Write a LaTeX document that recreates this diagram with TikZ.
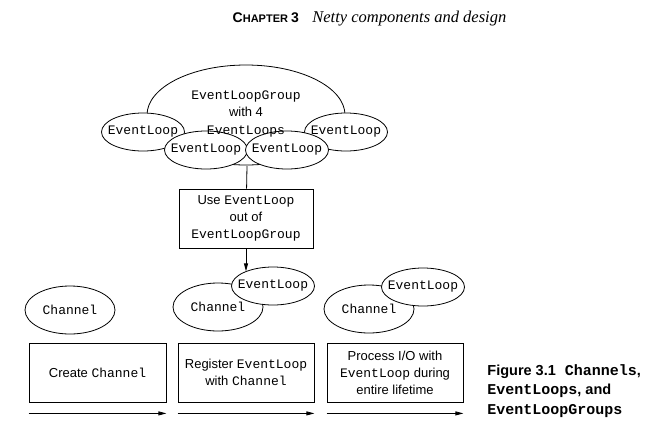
\documentclass[tikz,border=0pt]{standalone}
\usepackage{fontspec}
\setmainfont{Liberation Serif}
\setsansfont{Liberation Sans}
\setmonofont{Liberation Mono}
\usetikzlibrary{arrows.meta,shapes.geometric}
\newcommand{\cname}[1]{{\ttfamily #1}}
\newcommand{\capname}[1]{{\ttfamily\fontsize{15}{17.5}\selectfont #1}}
\newcommand{\tight}[1]{\makebox[0pt]{#1}}

\begin{document}
\begin{tikzpicture}[x=1pt,y=-1pt,line width=0.8pt,
    loop/.style={shape=ellipse,draw=black,fill=white,inner sep=0pt,
        minimum width=83pt,minimum height=38pt,font=\ttfamily\fontsize{13}{17}\selectfont},
    chan/.style={shape=ellipse,draw=black,fill=white,inner sep=0pt,
        minimum width=90pt,minimum height=48pt,font=\ttfamily\fontsize{13}{17}\selectfont},
    stepbox/.style={draw=black,inner sep=0pt,minimum width=136pt,minimum height=59pt,
        align=center,font=\sffamily\fontsize{13}{17}\selectfont},
    flow/.style={-{Triangle[length=8pt,width=4pt]}}]
    \useasboundingbox (0,0) rectangle (669,426);

    \node[anchor=base west,font=\sffamily\bfseries] (chap) at (229,22)
        {\fontsize{14}{14}\selectfont C\fontsize{11}{14}\selectfont HAPTER \fontsize{14}{14}\selectfont 3};
    \node[anchor=base west,inner sep=0pt,font=\itshape\fontsize{16.5}{18}\selectfont] (title) at (312,22)
        {Netty components and design};

    \node[shape=ellipse,draw=black,fill=white,minimum width=198pt,minimum height=100pt] (group) at (246,115) {};
    \node[loop] (la) at (143,132) {\tight{EventLoop}};
    \node[loop] (ld) at (346,132) {\tight{EventLoop}};
    \node[loop] (lb) at (206,150) {\tight{EventLoop}};
    \node[loop] (lc) at (287,150) {\tight{EventLoop}};
    \node[align=center,font=\sffamily\fontsize{13}{17.5}\selectfont] (grouptext) at (246,113.5)
        {\cname{EventLoopGroup}\\with 4\\\cname{EventLoops}};
    \coordinate (join) at (247,166);

    \node[stepbox,minimum width=134pt] (use) at (246,218.5)
        {Use \cname{EventLoop}\\out of\\\cname{EventLoopGroup}};
    \path [-] (join) edge (use);

    \node[chan] (c1) at (70,310) {\tight{Channel}};
    \node[chan] (c2) at (218,307) {\tight{Channel}};
    \node[chan] (c3) at (369,309) {\tight{Channel}};
    \node[loop] (e2) at (273,286) {\tight{EventLoop}};
    \node[loop] (e3) at (423,287) {\tight{EventLoop}};
    \draw[flow] (use.south) -- (use.south |- e2.152);

    \node[stepbox,minimum width=137pt] (b1) at (97.5,372.5) {Create \cname{Channel}};
    \node[stepbox] (b2) at (246,372.5) {Register \cname{EventLoop}\\with \cname{Channel}};
    \node[stepbox] (b3) at (395,372.5) {Process I/O with\\\cname{EventLoop} during\\entire lifetime};
    \draw[flow] ([yshift=-11pt]b1.south west) -- ([yshift=-11pt]b1.south east);
    \draw[flow] ([yshift=-11pt]b2.south west) -- ([yshift=-11pt]b2.south east);
    \draw[flow] ([yshift=-11pt]b3.south west) -- ([yshift=-11pt]b3.south east);

    \node[anchor=west,align=left,inner sep=0pt,font=\sffamily\bfseries\fontsize{14.5}{19.5}\selectfont] (caption) at (487,391)
        {Figure 3.1\hspace{9pt}\capname{Channels},\\\capname{EventLoops}, and\\\capname{EventLoopGroups}};
\end{tikzpicture}
\end{document}
